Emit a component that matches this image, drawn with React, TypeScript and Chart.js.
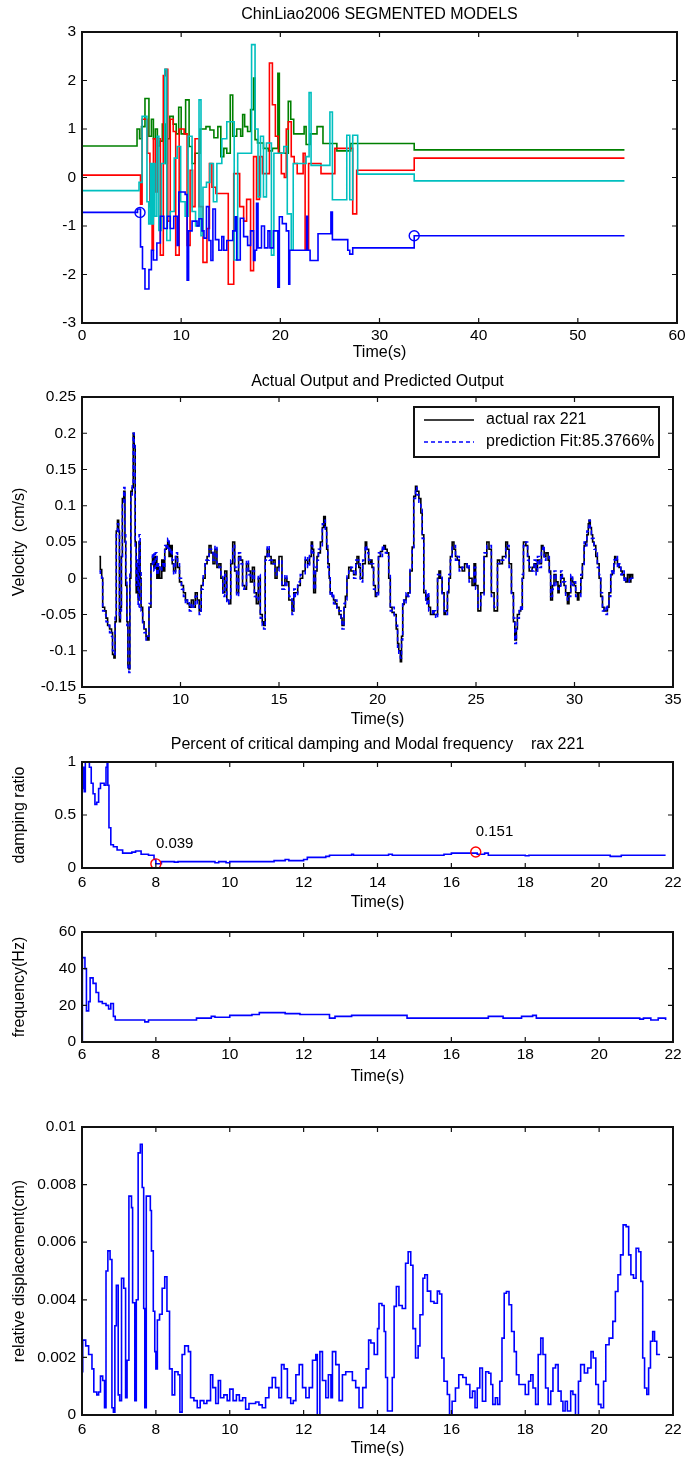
import React, { useEffect, useRef } from "react";
import { Chart, registerables } from "chart.js";
Chart.register(...registerables);

// ---------------- DATA ----------------
// Panel 1: segmented model parameters (stairs), [time, value]
const greenSteps: [number, number][] = [
  [0, 0.65], [5.55, 1.0], [5.8, 0.8], [6.0, 1.05], [6.35, 1.63], [6.75, 0.85], [7.0, 1.2], [7.2, 0.8], [7.4, 1.0], [7.6, 0.65],
  [7.85, 0.75], [8.1, 1.1], [8.4, 0.29], [8.6, 0.8], [8.85, 1.26], [9.2, 1.1], [9.5, 0.9], [9.75, 1.45], [10.0, 0.9], [10.45, 1.6],
  [10.8, 0.64], [11.1, 0.29], [11.4, 0.5], [11.9, 1.0], [12.5, 1.05], [12.9, 0.98], [13.3, 0.82], [13.7, 1.05], [14.0, 0.43], [14.3, 0.6],
  [14.6, 0.5], [14.95, 1.7], [15.2, 0.85], [15.6, 1.0], [16.0, 0.85], [16.2, 1.3], [16.4, 1.05], [16.7, 0.95], [17.0, 1.4], [17.3, 2.05],
  [17.45, 0.78], [17.7, 0.71], [18.3, 0.6], [18.8, 0.55], [19.2, 0.6], [19.75, 2.15], [19.9, 0.5], [20.5, 0.5], [20.8, 1.57], [21.05, 1.2],
  [21.35, 0.9], [22.0, 0.9], [22.4, 1.05], [22.6, 0.68], [23.0, 0.9], [23.7, 1.05], [24.3, 0.7], [25.5, 0.7], [25.7, 0.55], [27.1, 0.7],
  [33.5, 0.57], [54.7, 0.57],
];
const redSteps: [number, number][] = [
  [0, 0.05], [5.9, -0.55], [6.06, 1.2], [6.6, 0.5], [6.85, -0.6], [7.07, -1.5], [7.2, 0.8], [7.4, -0.3], [7.6, 0.8], [7.9, -1.6],
  [8.2, 2.1], [8.4, 2.23], [8.65, -0.9], [8.9, 1.2], [9.2, 0.95], [9.45, -1.6], [9.8, 1.0], [10.3, 0.9], [10.6, -1.4], [10.9, 0.15],
  [11.15, -0.6], [11.4, 0.8], [11.8, -0.6], [12.2, -1.75], [12.6, -1.05], [12.85, 0.29], [13.1, -0.2], [13.5, -0.33], [14.75, -2.2], [15.3, 0.08],
  [15.9, -0.6], [16.3, -0.9], [16.6, -0.45], [17.0, -1.92], [17.3, 0.43], [17.6, -0.45], [17.9, 0.43], [18.2, 0.08], [18.9, 2.36], [19.2, 1.5],
  [19.5, 0.85], [19.8, 0.5], [20.1, 0.08], [20.4, 0.0], [20.6, 1.0], [20.8, 1.15], [21.1, 0.43], [21.4, 0.29], [21.7, 0.08], [22.3, 0.5],
  [22.5, -1.5], [22.85, 0.29], [23.7, 0.29], [24.1, 0.08], [25.5, 0.6], [27.3, -0.75], [27.7, 0.15], [33.5, 0.4], [54.7, 0.4],
];
const cyanSteps: [number, number][] = [
  [0, -0.27], [5.75, -0.1], [6.06, 1.26], [6.55, -0.5], [6.73, -0.96], [6.9, 0.29], [7.05, -0.96], [7.2, 0.29], [7.35, -0.8], [7.55, 0.85],
  [7.75, -1.09], [8.0, 0.29], [8.35, 2.23], [8.55, -1.3], [8.9, -0.7], [9.3, 0.4], [9.6, 0.64], [9.95, -0.5], [10.4, -0.8], [10.7, 0.85],
  [11.1, -0.7], [11.45, -1.0], [11.8, 1.6], [12.0, -1.2], [12.2, -0.2], [12.55, -0.1], [12.9, 0.29], [13.25, -0.5], [13.6, 0.29], [14.1, 0.8],
  [14.6, 1.15], [15.35, -1.7], [15.7, 0.5], [17.1, 2.74], [17.45, 1.0], [17.75, -0.4], [18.0, 0.85], [18.3, -0.4], [18.6, 0.71], [19.1, -1.6],
  [19.35, 0.5], [20.0, 0.5], [20.35, 0.64], [20.7, -0.75], [21.1, -1.5], [21.3, 0.29], [22.0, 0.29], [22.6, 0.43], [22.9, 1.75], [23.1, 0.25],
  [25.0, 1.35], [25.25, -0.46], [26.7, 0.87], [27.0, -0.46], [27.3, 0.87], [27.8, 0.07], [33.5, -0.07], [54.7, -0.07],
];
const blueSteps: [number, number][] = [
  [0, -0.72], [5.6, -0.65], [5.9, -1.43], [6.1, -1.88], [6.35, -2.3], [6.75, -1.9], [7.0, -1.5], [7.2, -1.7], [7.55, -1.35], [7.9, -0.8],
  [8.25, -1.05], [8.6, -0.8], [8.9, -1.05], [9.25, -0.8], [9.6, -1.4], [9.76, -0.3], [10.4, -0.35], [10.6, -2.12], [10.75, -1.1], [11.1, -0.9],
  [11.6, -1.0], [11.8, -0.85], [12.1, -1.1], [12.3, -1.25], [12.55, -0.6], [12.8, -1.3], [13.0, -1.71], [13.2, -0.65], [13.45, -1.28], [13.8, -1.5],
  [14.1, -1.22], [14.3, -1.5], [14.6, -1.3], [15.2, -1.1], [15.45, -0.81], [15.6, -1.7], [15.96, -0.84], [16.3, -1.22], [16.7, -1.4], [17.0, -1.1],
  [17.3, -1.71], [17.45, -1.5], [17.6, -0.53], [17.75, -1.45], [18.1, -1.0], [18.4, -1.45], [18.75, -1.1], [18.95, -1.45], [19.3, -1.1], [19.75, -2.26],
  [19.9, -0.81], [20.2, -0.95], [20.6, -1.1], [20.85, -2.2], [20.95, -1.5], [22.65, -0.8], [22.75, -1.5], [23.0, -1.71], [23.8, -1.16], [25.1, -0.71],
  [25.25, -1.28], [26.8, -1.5], [27.0, -1.58], [27.3, -1.45], [33.5, -1.2], [54.7, -1.2],
];
const blueMarkers: [number, number][] = [[5.85, -0.72], [33.5, -1.2]];

// Panel 2: actual vs predicted velocity
const p2Time = [
  5.88, 5.93, 6.0, 6.05, 6.15, 6.22, 6.3, 6.4, 6.5, 6.55,
  6.62, 6.68, 6.74, 6.8, 6.86, 6.9, 6.95, 7.0, 7.05, 7.12,
  7.18, 7.22, 7.28, 7.33, 7.38, 7.43, 7.48, 7.55, 7.6, 7.65,
  7.7, 7.75, 7.8, 7.85, 7.9, 7.95, 8.0, 8.08, 8.15, 8.25,
  8.32, 8.4, 8.5, 8.58, 8.65, 8.72, 8.8, 8.88, 8.95, 9.05,
  9.12, 9.2, 9.28, 9.35, 9.42, 9.5, 9.58, 9.65, 9.75, 9.85,
  9.95, 10.05, 10.15, 10.25, 10.35, 10.45, 10.55, 10.65, 10.75, 10.85,
  10.95, 11.05, 11.15, 11.25, 11.35, 11.45, 11.55, 11.65, 11.75, 11.85,
  11.95, 12.05, 12.15, 12.25, 12.35, 12.45, 12.55, 12.65, 12.75, 12.85,
  12.95, 13.05, 13.15, 13.25, 13.35, 13.45, 13.55, 13.65, 13.75, 13.85,
  13.95, 14.05, 14.15, 14.22, 14.3, 14.4, 14.5, 14.6, 14.7, 14.8,
  14.9, 15.0, 15.15, 15.3, 15.4, 15.5, 15.66, 15.75, 15.83, 15.95,
  16.08, 16.2, 16.33, 16.45, 16.55, 16.64, 16.7, 16.76, 16.85, 16.93,
  17.0, 17.1, 17.2, 17.27, 17.35, 17.42, 17.48, 17.55, 17.6, 17.7,
  17.77, 17.85, 17.94, 18.05, 18.15, 18.2, 18.3, 18.37, 18.45, 18.54,
  18.65, 18.79, 18.9, 18.96, 19.05, 19.13, 19.25, 19.38, 19.45, 19.55,
  19.65, 19.72, 19.8, 19.89, 19.95, 20.05, 20.15, 20.25, 20.32, 20.4,
  20.49, 20.57, 20.65, 20.74, 20.85, 20.95, 21.02, 21.08, 21.16, 21.22,
  21.28, 21.35, 21.45, 21.55, 21.65, 21.76, 21.84, 21.93, 22.0, 22.1,
  22.2, 22.27, 22.35, 22.45, 22.52, 22.6, 22.69, 22.8, 22.86, 22.95,
  23.05, 23.12, 23.2, 23.28, 23.38, 23.45, 23.55, 23.62, 23.7, 23.79,
  23.88, 23.96, 24.05, 24.15, 24.3, 24.42, 24.55, 24.65, 24.8, 24.9,
  24.98, 25.1, 25.24, 25.41, 25.55, 25.66, 25.78, 25.92, 26.09, 26.2,
  26.34, 26.51, 26.6, 26.68, 26.8, 26.9, 26.97, 27.05, 27.1, 27.2,
  27.27, 27.35, 27.41, 27.53, 27.62, 27.7, 27.85, 27.95, 28.05, 28.12,
  28.22, 28.32, 28.4, 28.46, 28.55, 28.66, 28.72, 28.79, 28.88, 28.96,
  29.06, 29.16, 29.22, 29.3, 29.38, 29.47, 29.55, 29.64, 29.72, 29.81,
  29.9, 29.98, 30.06, 30.15, 30.22, 30.32, 30.4, 30.49, 30.56, 30.63,
  30.7, 30.74, 30.8, 30.86, 30.92, 30.99, 31.08, 31.16, 31.25, 31.33,
  31.42, 31.5, 31.6, 31.67, 31.75, 31.84, 31.92, 32.0, 32.04, 32.1,
  32.18, 32.26, 32.35, 32.42, 32.52, 32.6, 32.69, 32.78, 32.86, 32.95,
];
const p2Actual = [
  0.03, 0.012, 0.0, -0.04, -0.045, -0.055, -0.065, -0.07, -0.075, -0.105,
  -0.11, -0.06, 0.065, 0.08, 0.065, -0.06, -0.04, 0.03, 0.11, 0.12,
  0.05, -0.01, -0.06, -0.12, -0.125, 0.0, 0.12, 0.125, 0.2, 0.18,
  0.05, -0.02, 0.02, -0.03, 0.05, 0.0, -0.04, -0.06, -0.07, -0.08,
  -0.085, -0.04, 0.02, 0.03, 0.015, 0.03, 0.0, 0.015, 0.0, 0.025,
  0.01, 0.04, 0.045, 0.05, 0.03, 0.045, 0.02, 0.01, 0.03, 0.015,
  -0.005, -0.01, -0.02, -0.03, -0.035, -0.04, -0.03, -0.04, -0.02, -0.03,
  -0.045, -0.01, 0.0, 0.02, 0.03, 0.045, 0.035, 0.02, 0.04, 0.015,
  0.02, 0.0, -0.02, 0.01, -0.03, -0.035, 0.02, 0.05, 0.01, -0.02,
  0.03, 0.025, -0.01, -0.015, 0.02, 0.01, -0.005, 0.015, -0.02, -0.035,
  0.0, -0.05, -0.06, -0.065, 0.03, 0.04, 0.03, 0.02, 0.025, 0.0,
  0.015, 0.03, -0.01, 0.0, -0.005, -0.03, -0.045, -0.02, -0.02, -0.01,
  0.0, 0.01, 0.025, 0.02, 0.03, 0.05, 0.04, -0.02, 0.01, 0.03,
  0.035, 0.05, 0.07, 0.085, 0.07, 0.04, 0.02, 0.0, -0.02, -0.025,
  -0.03, -0.035, -0.04, -0.05, -0.055, -0.065, -0.04, -0.025, 0.0, 0.015,
  0.01, 0.005, 0.02, 0.03, 0.015, 0.0, 0.02, 0.05, 0.04, 0.02,
  0.025, 0.015, -0.01, -0.025, -0.02, 0.03, 0.037, 0.04, 0.045, 0.04,
  0.035, 0.0, -0.04, -0.047, -0.05, -0.07, -0.09, -0.1, -0.115, -0.08,
  -0.036, -0.03, -0.025, -0.02, 0.01, 0.043, 0.113, 0.127, 0.12, 0.11,
  0.09, 0.06, -0.02, -0.03, -0.025, -0.04, -0.05, -0.045, -0.05, -0.05,
  0.0, 0.01, 0.0, -0.02, -0.05, -0.045, -0.02, 0.0, 0.03, 0.05,
  0.04, 0.03, 0.025, 0.015, 0.01, 0.02, 0.015, 0.0, -0.01, 0.02,
  -0.01, -0.045, -0.02, 0.03, 0.05, 0.04, -0.02, -0.045, 0.025, 0.02,
  0.03, 0.05, 0.04, 0.02, -0.02, -0.06, -0.085, -0.07, -0.05, -0.045,
  -0.04, 0.0, 0.05, 0.045, 0.03, 0.01, 0.015, 0.02, 0.01, 0.025,
  0.02, 0.045, 0.04, 0.03, 0.035, 0.025, 0.01, -0.03, -0.01, 0.005,
  -0.005, -0.02, -0.01, 0.005, 0.0, -0.01, -0.02, -0.035, -0.02, 0.0,
  -0.005, -0.01, -0.02, -0.03, -0.02, 0.0, 0.02, 0.045, 0.05, 0.06,
  0.075, 0.08, 0.07, 0.06, 0.05, 0.045, 0.03, 0.02, 0.0, -0.025,
  -0.04, -0.045, -0.045, -0.04, -0.02, 0.005, 0.01, 0.02, 0.03, 0.025,
  0.02, 0.015, 0.01, 0.005, 0.0, -0.005, 0.005, -0.005, 0.005, 0.0,
];
const p2Predicted = [
  0.01, 0.005, 0.0, -0.045, -0.05, -0.06, -0.065, -0.075, -0.08, -0.1,
  -0.105, -0.05, 0.06, 0.075, 0.06, -0.055, -0.045, 0.025, 0.105, 0.125,
  0.06, 0.0, -0.065, -0.125, -0.13, 0.01, 0.115, 0.13, 0.2, 0.185,
  0.04, -0.01, 0.025, -0.04, 0.06, 0.01, -0.045, -0.065, -0.075, -0.085,
  -0.08, -0.035, 0.015, 0.035, 0.01, 0.035, 0.005, 0.02, 0.01, 0.02,
  0.015, 0.045, 0.04, 0.055, 0.035, 0.04, 0.025, 0.005, 0.035, 0.02,
  0.0, -0.015, -0.025, -0.035, -0.03, -0.045, -0.035, -0.04, -0.025, -0.035,
  -0.05, -0.015, 0.005, 0.025, 0.025, 0.04, 0.04, 0.025, 0.045, 0.02,
  0.015, 0.005, -0.025, 0.005, -0.035, -0.03, 0.025, 0.045, 0.015, -0.025,
  0.035, 0.02, -0.015, -0.01, 0.025, 0.005, 0.0, 0.01, -0.025, -0.03,
  0.005, -0.055, -0.065, -0.07, 0.025, 0.045, 0.025, 0.025, 0.02, 0.005,
  0.01, 0.025, -0.015, 0.005, -0.01, -0.025, -0.05, -0.015, -0.025, -0.005,
  0.005, 0.005, 0.03, 0.015, 0.035, 0.045, 0.035, -0.015, 0.015, 0.025,
  0.04, 0.045, 0.075, 0.08, 0.065, 0.045, 0.015, 0.005, -0.025, -0.02,
  -0.035, -0.03, -0.045, -0.045, -0.06, -0.07, -0.035, -0.03, 0.005, 0.01,
  0.015, 0.0, 0.025, 0.025, 0.02, -0.005, 0.025, 0.045, 0.035, 0.025,
  0.02, 0.02, -0.015, -0.02, -0.025, 0.035, 0.03, 0.045, 0.04, 0.035,
  0.03, 0.005, -0.045, -0.04, -0.055, -0.065, -0.095, -0.105, -0.11, -0.085,
  -0.03, -0.035, -0.02, -0.025, 0.015, 0.04, 0.11, 0.125, 0.115, 0.105,
  0.095, 0.055, -0.015, -0.035, -0.02, -0.045, -0.045, -0.05, -0.045, -0.055,
  0.005, 0.005, 0.005, -0.025, -0.045, -0.05, -0.015, 0.005, 0.025, 0.045,
  0.045, 0.025, 0.03, 0.01, 0.015, 0.015, 0.02, -0.005, -0.005, 0.015,
  -0.015, -0.04, -0.025, 0.035, 0.045, 0.045, -0.025, -0.04, 0.02, 0.025,
  0.025, 0.045, 0.045, 0.015, -0.025, -0.055, -0.09, -0.065, -0.055, -0.04,
  -0.045, 0.005, 0.045, 0.05, 0.025, 0.015, 0.01, 0.025, 0.005, 0.03,
  0.015, 0.04, 0.045, 0.025, 0.03, 0.03, 0.005, -0.025, -0.015, 0.01,
  -0.01, -0.015, -0.015, 0.01, -0.005, -0.005, -0.025, -0.03, -0.025, 0.005,
  -0.01, -0.005, -0.025, -0.025, -0.025, 0.005, 0.015, 0.05, 0.045, 0.065,
  0.07, 0.08, 0.065, 0.055, 0.055, 0.04, 0.035, 0.015, 0.005, -0.02,
  -0.045, -0.04, -0.05, -0.035, -0.025, 0.01, 0.005, 0.025, 0.025, 0.03,
  0.015, 0.02, 0.005, 0.01, -0.005, 0.0, 0.0, -0.005, 0.0, 0.005,
];
const p2Labels = ["actual rax 221", "prediction Fit:85.3766%"];

// Panel 3: damping ratio
const p3Time = [
  6.0, 6.03, 6.06, 6.09, 6.2, 6.25, 6.3, 6.35, 6.4, 6.45,
  6.5, 6.6, 6.65, 6.68, 6.7, 6.73, 6.78, 6.85, 6.95, 7.1,
  7.35, 7.45, 7.6, 7.8, 7.95, 8.0, 8.15, 8.5, 8.6, 9.6,
  9.7, 9.9, 10.0, 11.2, 11.5, 11.6, 12.0, 12.1, 12.6, 12.7,
  13.3, 13.35, 14.2, 14.3, 14.4, 15.8, 16.0, 16.6, 16.7, 16.9,
  17.0, 18.0, 18.1, 20.2, 20.3, 20.5, 20.6, 21.8,
];
const p3Damping = [
  0.75, 0.95, 0.72, 1.0, 0.95, 0.8, 0.7, 0.6, 0.62, 0.75,
  0.8, 0.78, 0.95, 1.0, 0.78, 0.38, 0.22, 0.2, 0.17, 0.14,
  0.15, 0.16, 0.13, 0.12, 0.08, 0.04, 0.06, 0.055, 0.06, 0.05,
  0.06, 0.05, 0.06, 0.07, 0.08, 0.07, 0.08, 0.1, 0.11, 0.12,
  0.13, 0.12, 0.12, 0.13, 0.12, 0.13, 0.14, 0.14, 0.13, 0.14,
  0.12, 0.115, 0.12, 0.12, 0.11, 0.11, 0.12, 0.12,
];
const p3MarkTime = [8.0, 16.66];
const p3MarkValue = [0.039, 0.151];

// Panel 4: modal frequency
const p4Time = [
  6.0, 6.01, 6.08, 6.12, 6.18, 6.22, 6.3, 6.38, 6.45, 6.55,
  6.65, 6.72, 6.78, 6.85, 6.9, 7.7, 7.8, 9.0, 9.1, 9.5,
  9.6, 10.0, 10.6, 10.8, 11.5, 11.9, 12.7, 12.85, 13.3, 14.8,
  16.0, 17.0, 17.4, 17.9, 18.2, 18.3, 21.1, 21.2, 21.4, 21.6,
  21.8,
];
const p4Freq = [
  0, 46, 40, 17, 22, 35, 32, 27, 22, 21,
  20, 18, 21, 14, 12, 11, 12, 12, 13, 14,
  13.5, 14.5, 15, 16, 15.5, 15, 13, 14, 14.5, 13,
  13, 14, 13, 14, 14.5, 13, 12.5, 13, 12, 13,
  12,
];

// Panel 5: relative displacement
const p5Time = [
  6.0, 6.02, 6.1, 6.18, 6.27, 6.32, 6.4, 6.45, 6.5, 6.56,
  6.61, 6.65, 6.7, 6.76, 6.81, 6.85, 6.89, 6.93, 6.98, 7.02,
  7.07, 7.13, 7.18, 7.22, 7.27, 7.34, 7.37, 7.43, 7.47, 7.52,
  7.58, 7.63, 7.67, 7.7, 7.74, 7.79, 7.85, 7.88, 7.93, 7.97,
  8.0, 8.04, 8.1, 8.17, 8.24, 8.3, 8.37, 8.44, 8.51, 8.6,
  8.65, 8.71, 8.78, 8.88, 8.94, 9.03, 9.12, 9.2, 9.3, 9.38,
  9.48, 9.54, 9.62, 9.69, 9.75, 9.84, 9.93, 10.0, 10.09, 10.18,
  10.26, 10.35, 10.43, 10.52, 10.6, 10.7, 10.79, 10.88, 10.97, 11.06,
  11.15, 11.24, 11.33, 11.4, 11.47, 11.56, 11.65, 11.72, 11.79, 11.88,
  11.97, 12.06, 12.15, 12.24, 12.33, 12.37, 12.44, 12.51, 12.6, 12.67,
  12.74, 12.78, 12.87, 12.96, 13.05, 13.14, 13.23, 13.32, 13.41, 13.5,
  13.6, 13.69, 13.76, 13.82, 13.91, 14.0, 14.04, 14.12, 14.18, 14.22,
  14.27, 14.36, 14.4, 14.45, 14.51, 14.58, 14.67, 14.76, 14.83, 14.9,
  14.96, 15.03, 15.1, 15.15, 15.23, 15.28, 15.35, 15.44, 15.53, 15.62,
  15.68, 15.74, 15.8, 15.89, 15.95, 16.02, 16.11, 16.2, 16.31, 16.4,
  16.5, 16.57, 16.64, 16.7, 16.77, 16.84, 16.93, 17.01, 17.07, 17.12,
  17.19, 17.25, 17.31, 17.37, 17.43, 17.49, 17.56, 17.63, 17.7, 17.76,
  17.83, 17.93, 18.0, 18.09, 18.15, 18.21, 18.28, 18.35, 18.42, 18.48,
  18.55, 18.62, 18.69, 18.75, 18.82, 18.89, 18.97, 19.02, 19.08, 19.14,
  19.23, 19.29, 19.36, 19.44, 19.5, 19.6, 19.69, 19.78, 19.84, 19.91,
  19.98, 20.05, 20.12, 20.18, 20.27, 20.37, 20.44, 20.51, 20.58, 20.65,
  20.73, 20.8, 20.86, 20.93, 21.0, 21.07, 21.13, 21.18, 21.23, 21.29,
  21.34, 21.39, 21.45, 21.5, 21.56, 21.65,
];
const p5Disp = [
  0.0015, 0.0026, 0.0024, 0.0021, 0.0016, 0.0008, 0.0007, 0.0008, 0.00135, 0.0012,
  0.00025, 0.005, 0.0057, 0.0054, 0.00025, 0.0001, 0.0031, 0.0045, 0.0007, 0.0005,
  0.00475, 0.0044, 0.0006, 0.0019, 0.0076, 0.0072, 0.0039, 0.0005, 0.004, 0.0091,
  0.0094, 0.0079, 0.0037, 0.00025, 0.0076, 0.0076, 0.0071, 0.0057, 0.0036, 0.0022,
  0.0016, 0.0033, 0.0035, 0.0044, 0.0048, 0.0036, 0.0016, 0.0007, 0.0015, 0.0014,
  0.0001, 0.0021, 0.0024, 0.0022, 0.0006, 0.0005, 0.00025, 0.0005, 0.0004, 0.0005,
  0.0014, 0.00095, 0.0004, 0.0012, 0.0006, 0.0007, 0.0005, 0.0009, 0.0005, 0.0007,
  0.0005, 0.0006, 0.0002, 0.0004, 0.0004, 0.00045, 0.00035, 0.00025, 0.0006, 0.00095,
  0.0013, 0.00095, 0.0006, 0.00175, 0.0016, 0.0006, 0.0004, 0.0005, 0.0014, 0.00175,
  0.00095, 0.0006, 0.00095, 0.0019, 0.0021, 0.0, 0.0022, 0.0012, 0.0006, 0.0014,
  0.0006, 0.0022, 0.00175, 0.0005, 0.0014, 0.0015, 0.0015, 0.0012, 0.00095, 0.00025,
  0.00095, 0.0016, 0.0026, 0.0025, 0.0021, 0.003, 0.00387, 0.0038, 0.0029, 0.0013,
  0.00014, 0.00014, 0.0013, 0.00377, 0.00446, 0.0038, 0.0037, 0.00527, 0.00567, 0.0052,
  0.003, 0.00198, 0.0024, 0.00348, 0.00475, 0.00487, 0.0043, 0.00394, 0.00388, 0.0043,
  0.0042, 0.00198, 0.00117, 0.00071, 0.0, 0.00048, 0.00094, 0.0014, 0.0013, 0.00106,
  0.0006, 0.00083, 0.00025, 0.00094, 0.00163, 0.00048, 0.0015, 0.00145, 0.00106, 0.00037,
  0.0006, 0.00037, 0.00117, 0.00267, 0.00423, 0.00429, 0.00383, 0.0029, 0.0022, 0.0014,
  0.00106, 0.00106, 0.00071, 0.00117, 0.0014, 0.00094, 0.00037, 0.0021, 0.00267, 0.0021,
  0.00094, 0.00037, 0.00083, 0.00163, 0.00175, 0.00083, 0.00048, 0.00014, 0.00048, 0.00014,
  0.00083, 0.00071, 0.0, 0.00117, 0.00175, 0.00146, 0.00163, 0.0022, 0.00198, 0.00106,
  0.00037, 0.00025, 0.00117, 0.00244, 0.00267, 0.00325, 0.00429, 0.00487, 0.00556, 0.0066,
  0.00654, 0.00556, 0.00487, 0.00475, 0.00579, 0.00567, 0.00464, 0.00198, 0.00094, 0.00071,
  0.00163, 0.00256, 0.0029, 0.00256, 0.0021, 0.0021,
];

// Axis tick values
const p1XTicks = [0, 10, 20, 30, 40, 50, 60];
const p1YTicks = [-3, -2, -1, 0, 1, 2, 3];
const p2XTicks = [5, 10, 15, 20, 25, 30, 35];
const p2YTicks = [-0.15, -0.1, -0.05, 0, 0.05, 0.1, 0.15, 0.2, 0.25];
const timeTicks = [6, 8, 10, 12, 14, 16, 18, 20, 22];
const p3YTicks = [0, 0.5, 1];
const p4YTicks = [0, 20, 40, 60];
const p5YTicks = [0, 0.002, 0.004, 0.006, 0.008, 0.01];

// ---------------- RENDERING ----------------
const W = 690;
const FONT = '"Liberation Sans", Arial, Helvetica, sans-serif';
const FS = 16; // titles, axis titles, legend
const TFS = 15.5; // tick labels
const HALF = (FS * 1.2) / 2;
const THALF = (TFS * 1.2) / 2;
const BLUE = "#0000ff";

const pairs = (arr: [number, number][]) => arr.map(([x, y]) => ({ x, y }));
const zip = (ts: number[], vs: number[]) => ts.map((t, i) => ({ x: t, y: vs[i] }));
const fmt = (v: any) => String(+Number(v).toFixed(6));

const lineDs = (label: string, data: any[], color: string, extra: any = {}) => ({
  label,
  data,
  borderColor: color,
  backgroundColor: color,
  borderWidth: 1.6,
  pointRadius: 0,
  stepped: true,
  tension: 0,
  fill: false,
  ...extra,
});
const markerDs = (data: any[], color: string) => ({
  label: "markers",
  data,
  showLine: false,
  pointRadius: 5,
  pointBorderWidth: 1.4,
  pointBorderColor: color,
  pointBackgroundColor: "rgba(0,0,0,0)",
  borderColor: color,
});

const framePlugin = {
  id: "matlabFrame",
  afterDatasetsDraw(chart: any) {
    const { ctx, chartArea } = chart;
    const { left, right, top, bottom } = chartArea;
    const sx = chart.scales.x;
    const sy = chart.scales.y;
    const tl = 5;
    ctx.save();
    ctx.strokeStyle = "#111";
    ctx.lineWidth = 1.2;
    ctx.beginPath();
    sx.ticks.forEach((t: any) => {
      const p = sx.getPixelForValue(t.value);
      ctx.moveTo(p, bottom);
      ctx.lineTo(p, bottom - tl);
      ctx.moveTo(p, top);
      ctx.lineTo(p, top + tl);
    });
    sy.ticks.forEach((t: any) => {
      const p = sy.getPixelForValue(t.value);
      ctx.moveTo(left, p);
      ctx.lineTo(left + tl, p);
      ctx.moveTo(right, p);
      ctx.lineTo(right - tl, p);
    });
    ctx.stroke();
    ctx.lineWidth = 2;
    ctx.strokeRect(left, top, right - left, bottom - top);
    ctx.restore();
  },
};

const legendPlugin = {
  id: "insideLegend",
  afterDraw(chart: any) {
    const { ctx, chartArea } = chart;
    const boxW = 245;
    const boxH = 50;
    const boxL = chartArea.right - 14 - boxW;
    const boxT = chartArea.top + 10;
    ctx.save();
    ctx.fillStyle = "#fff";
    ctx.fillRect(boxL, boxT, boxW, boxH);
    ctx.strokeStyle = "#111";
    ctx.lineWidth = 2;
    ctx.strokeRect(boxL, boxT, boxW, boxH);
    chart.data.datasets.forEach((ds: any, i: number) => {
      const y = boxT + 13 + i * 22;
      ctx.beginPath();
      ctx.setLineDash(ds.borderDash || []);
      ctx.strokeStyle = ds.borderColor;
      ctx.lineWidth = ds.borderWidth;
      ctx.moveTo(boxL + 10, y);
      ctx.lineTo(boxL + 60, y);
      ctx.stroke();
      ctx.setLineDash([]);
      ctx.fillStyle = "#000";
      ctx.font = `${FS}px ${FONT}`;
      ctx.textBaseline = "middle";
      ctx.textAlign = "left";
      ctx.fillText(ds.label, boxL + 72, y);
    });
    ctx.restore();
  },
};

const markLabelPlugin = {
  id: "markLabels",
  afterDatasetsDraw(chart: any) {
    const { ctx } = chart;
    const sx = chart.scales.x;
    const sy = chart.scales.y;
    ctx.save();
    ctx.fillStyle = "#000";
    ctx.font = `15px ${FONT}`;
    ctx.textBaseline = "middle";
    ctx.textAlign = "left";
    p3MarkTime.forEach((t, i) => {
      ctx.fillText(String(p3MarkValue[i]), sx.getPixelForValue(t), sy.getPixelForValue(p3MarkValue[i]) - 20);
    });
    ctx.restore();
  },
};

interface Spec {
  key: string;
  top: number;
  height: number;
  plotTop: number;
  plotBottom: number;
  plotRight: number;
  title?: string;
  titleCY?: number;
  xTickCY: number;
  xTitleCY: number;
  yTitle?: string;
  yTitleCX?: number;
  xMin: number;
  xMax: number;
  xTicks: number[];
  yMin: number;
  yMax: number;
  yTicks: number[];
  datasets: any[];
  plugins?: any[];
}

function buildConfig(p: Spec): any {
  const font = { family: FONT, size: FS, weight: "normal" as const };
  const tfont = { family: FONT, size: TFS, weight: "normal" as const };
  const xH = p.height - p.plotBottom;
  return {
    type: "line",
    data: { datasets: p.datasets },
    options: {
      animation: false,
      responsive: false,
      maintainAspectRatio: false,
      devicePixelRatio: 1,
      events: [],
      layout: { padding: { left: 0, right: W - p.plotRight, top: p.title ? 0 : p.plotTop, bottom: 0 } },
      plugins: {
        legend: { display: false },
        tooltip: { enabled: false },
        title: p.title
          ? {
              display: true,
              text: p.title,
              color: "#000",
              fullSize: false,
              font,
              padding: { top: (p.titleCY as number) - HALF, bottom: p.plotTop - (p.titleCY as number) - HALF },
            }
          : { display: false },
      },
      scales: {
        x: {
          type: "linear",
          min: p.xMin,
          max: p.xMax,
          grid: { display: false, drawTicks: false },
          border: { display: false },
          ticks: {
            autoSkip: false,
            maxRotation: 0,
            color: "#000",
            font: tfont,
            padding: p.xTickCY - p.plotBottom - THALF,
            callback: fmt,
          },
          afterBuildTicks: (s: any) => {
            s.ticks = p.xTicks.map((v) => ({ value: v }));
          },
          afterFit: (s: any) => {
            s.height = xH;
          },
          title: {
            display: true,
            text: "Time(s)",
            color: "#000",
            font,
            padding: { top: 0, bottom: p.height - p.xTitleCY - HALF },
          },
        },
        y: {
          type: "linear",
          min: p.yMin,
          max: p.yMax,
          grid: { display: false, drawTicks: false },
          border: { display: false },
          ticks: { autoSkip: false, color: "#000", font: tfont, padding: 6, callback: fmt },
          afterBuildTicks: (s: any) => {
            s.ticks = p.yTicks.map((v) => ({ value: v }));
          },
          afterFit: (s: any) => {
            s.width = 82;
          },
          title: p.yTitle
            ? {
                display: true,
                text: p.yTitle,
                color: "#000",
                font,
                padding: { top: (p.yTitleCX as number) - HALF, bottom: 0 },
              }
            : { display: false },
        },
      },
    },
    plugins: [framePlugin, ...(p.plugins || [])],
  };
}

const specs: Spec[] = [
  {
    key: "segments",
    top: 0,
    height: 365,
    plotTop: 32,
    plotBottom: 323,
    plotRight: 677,
    title: "ChinLiao2006 SEGMENTED MODELS",
    titleCY: 15,
    xTickCY: 336,
    xTitleCY: 353,
    xMin: 0,
    xMax: 60,
    xTicks: p1XTicks,
    yMin: -3,
    yMax: 3,
    yTicks: p1YTicks,
    datasets: [
      markerDs(pairs(blueMarkers), BLUE),
      lineDs("blue", pairs(blueSteps), BLUE),
      lineDs("cyan", pairs(cyanSteps), "#00bfbf"),
      lineDs("red", pairs(redSteps), "#ff0000"),
      lineDs("green", pairs(greenSteps), "#008000"),
    ],
  },
  {
    key: "velocity",
    top: 365,
    height: 365,
    plotTop: 32,
    plotBottom: 322,
    plotRight: 673,
    title: "Actual Output and Predicted Output",
    titleCY: 17,
    xTickCY: 335,
    xTitleCY: 355,
    yTitle: "Velocity  (cm/s)",
    yTitleCX: 20,
    xMin: 5,
    xMax: 35,
    xTicks: p2XTicks,
    yMin: -0.15,
    yMax: 0.25,
    yTicks: p2YTicks,
    datasets: [
      lineDs(p2Labels[0], zip(p2Time, p2Actual), "#000000", { order: 1 }),
      lineDs(p2Labels[1], zip(p2Time, p2Predicted), BLUE, { order: 0, borderDash: [4, 3] }),
    ],
    plugins: [legendPlugin],
  },
  {
    key: "damping",
    top: 730,
    height: 185,
    plotTop: 32,
    plotBottom: 138,
    plotRight: 673,
    title: "Percent of critical damping and Modal frequency    rax 221",
    titleCY: 15,
    xTickCY: 153,
    xTitleCY: 173,
    yTitle: "damping ratio",
    yTitleCX: 20,
    xMin: 6,
    xMax: 22,
    xTicks: timeTicks,
    yMin: 0,
    yMax: 1,
    yTicks: p3YTicks,
    datasets: [
      markerDs(zip(p3MarkTime, p3MarkValue), "#ff0000"),
      lineDs("damping", zip(p3Time, p3Damping), BLUE),
    ],
    plugins: [markLabelPlugin],
  },
  {
    key: "frequency",
    top: 915,
    height: 175,
    plotTop: 17,
    plotBottom: 127,
    plotRight: 673,
    xTickCY: 140,
    xTitleCY: 162,
    yTitle: "frequency(Hz)",
    yTitleCX: 20,
    xMin: 6,
    xMax: 22,
    xTicks: timeTicks,
    yMin: 0,
    yMax: 60,
    yTicks: p4YTicks,
    datasets: [lineDs("frequency", zip(p4Time, p4Freq), BLUE)],
  },
  {
    key: "displacement",
    top: 1090,
    height: 369,
    plotTop: 37,
    plotBottom: 325,
    plotRight: 673,
    xTickCY: 340,
    xTitleCY: 359,
    yTitle: "relative displacement(cm)",
    yTitleCX: 20,
    xMin: 6,
    xMax: 22,
    xTicks: timeTicks,
    yMin: 0,
    yMax: 0.01,
    yTicks: p5YTicks,
    datasets: [lineDs("displacement", zip(p5Time, p5Disp), BLUE)],
  },
];

function Panel({ spec }: { spec: Spec }) {
  const ref = useRef<HTMLCanvasElement>(null);
  useEffect(() => {
    if (!ref.current) return;
    const chart = new Chart(ref.current, buildConfig(spec));
    return () => chart.destroy();
  }, [spec]);
  return (
    <canvas
      ref={ref}
      width={W}
      height={spec.height}
      style={{ position: "absolute", left: 0, top: spec.top, width: W, height: spec.height }}
    />
  );
}

export default function App() {
  return (
    <div style={{ position: "absolute", left: 0, top: 0, width: W, height: 1459, background: "#fff" }}>
      {specs.map((s) => (
        <Panel key={s.key} spec={s} />
      ))}
    </div>
  );
}
